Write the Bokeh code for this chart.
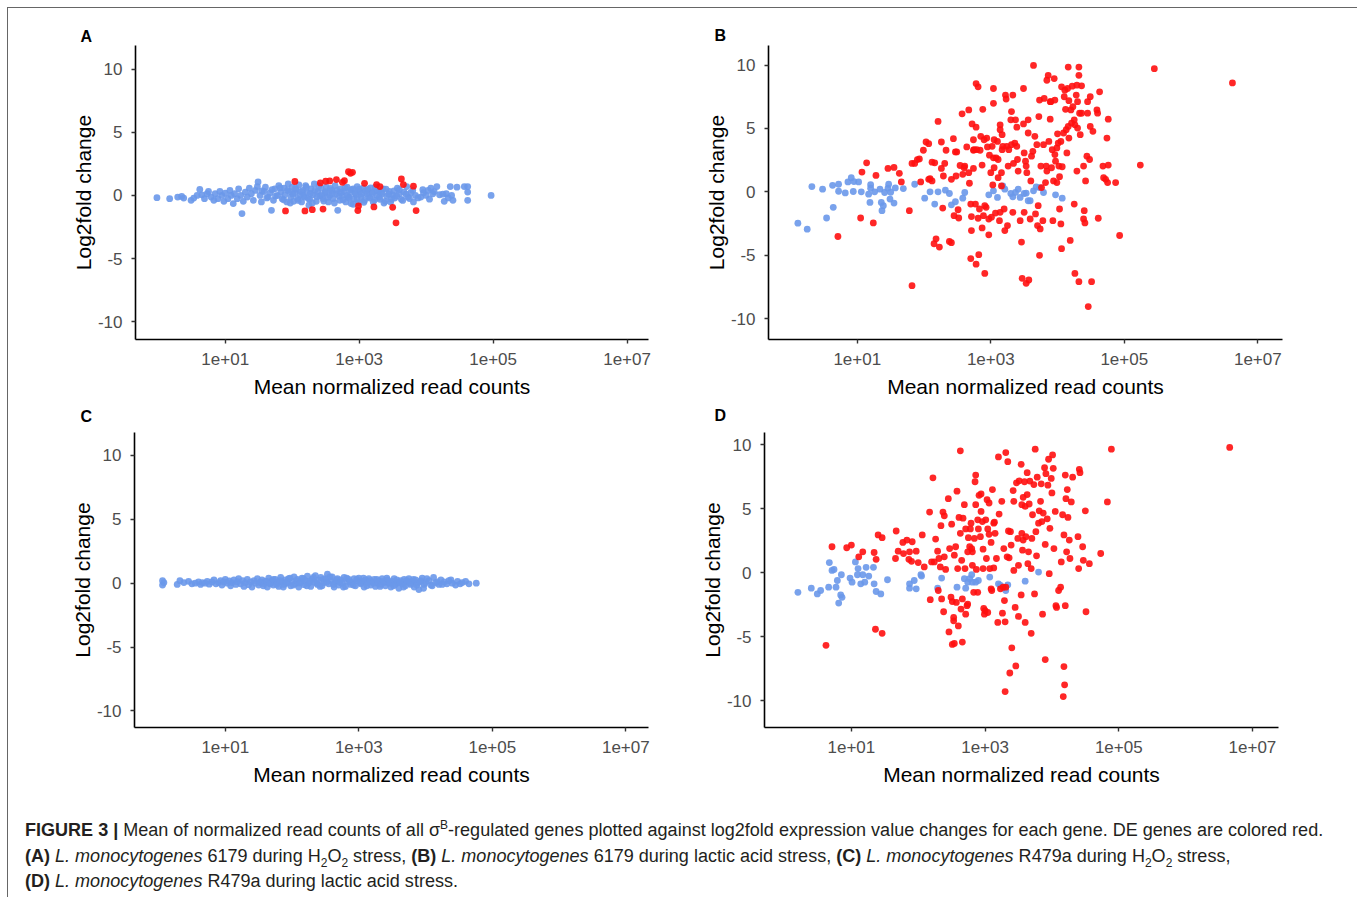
import numpy as np
from bokeh.plotting import figure
from bokeh.models import Range1d, FixedTicker, Div, Title, Spacer
from bokeh.layouts import column, row
from bokeh.embed import file_html
from bokeh.resources import INLINE

# ---------------- data: (log10 mean normalized read count, log2 fold change) ----------------
x_ticks = [10, 1000, 100000, 10000000]
x_tick_labels = ["1e+01", "1e+03", "1e+05", "1e+07"]
y_ticks = [-10, -5, 0, 5, 10]
y_tick_labels = ["-10", "-5", "0", "5", "10"]

# Panel A: 6179, H2O2
a_blue = [(-0.02,-0.18),(0.17,-0.26),(0.29,-0.13),(0.35,-0.08),(0.38,-0.21),(0.49,-0.39),(0.53,-0.21),(0.58,0.0),
          (0.62,0.47),(0.65,0.05),(0.69,-0.26),(0.73,0.13),(0.75,0.31),(0.79,-0.13),(0.83,-0.39),(0.85,0.13),(0.89,-0.26),
          (0.92,0.31),(0.95,0.0),(0.98,-0.47),(1.0,0.18),(1.04,-0.26),(1.07,0.39),(1.09,0.0),(1.12,-0.65),(1.14,0.13),
          (1.18,-0.26),(1.2,0.52),(1.23,0.0),(1.25,-1.44),(1.27,-0.47),(1.3,0.26),(1.33,-0.13),(1.36,0.57),(1.39,0.13),
          (1.42,-0.39),(1.45,0.39),(1.48,0.7),(1.49,1.07),(1.52,0.0),(1.54,-0.52),(1.58,0.31),(1.6,0.65),(1.64,-0.13),
          (1.67,0.21),(1.69,-1.18),(1.72,-0.39),(1.74,0.52),(1.78,0.0),(1.8,0.78),(1.83,0.26),(1.85,-0.26),(1.88,0.57),
          (1.89,0.05),(1.92,-0.52),(1.94,0.91),(1.96,0.31),(1.98,-0.13),(2.0,0.65),(2.02,-0.47),(2.04,0.21),(2.06,0.47),
          (2.08,-0.26),(2.1,0.83),(2.12,0.05),(2.14,-0.52),(2.16,0.39),(2.18,-0.13),(2.2,0.78),(2.22,0.21),(2.25,-0.78),
          (2.26,-0.31),(2.28,0.52),(2.31,0.05),(2.33,0.91),(2.36,-0.47),(2.38,0.31),(2.41,-0.05),(2.43,0.57),(2.46,-0.26),
          (2.49,0.21),(2.51,0.65),(2.54,-0.52),(2.56,0.0),(2.59,0.39),(2.61,-0.26),(2.64,0.78),(2.66,0.13),(2.68,-1.18),
          (2.71,-0.39),(2.72,0.52),(2.75,0.0),(2.77,0.31),(2.8,-0.52),(2.82,0.65),(2.84,-0.13),(2.86,0.21),(2.88,-0.65),
          (2.91,0.52),(2.92,-0.26),(2.95,0.08),(2.97,0.7),(2.99,-0.57),(3.01,0.31),(3.03,-0.13),(3.06,0.57),(3.08,-0.39),
          (3.11,0.13),(3.13,0.47),(3.16,-0.21),(3.19,0.26),(3.21,-0.52),(3.24,0.65),(3.26,0.0),(3.29,0.31),(3.31,-0.31),
          (3.34,0.13),(3.36,0.52),(3.39,-0.47),(3.41,-0.05),(3.45,0.31),(3.47,-0.52),(3.5,0.05),(3.53,-0.21),(3.57,0.57),
          (3.6,0.13),(3.63,-0.31),(3.67,0.26),(3.71,0.7),(3.73,-0.13),(3.77,0.21),(3.81,-0.52),(3.84,0.0),(3.92,-0.13),
          (3.96,0.21),(4.0,0.0),(4.03,0.39),(4.07,0.57),(4.1,0.13),(4.16,0.7),(4.2,0.05),(4.27,-0.47),(4.3,0.13),
          (4.36,0.7),(4.38,0.0),(4.4,-0.39),(4.46,0.65),(4.57,0.7),(4.62,0.7),(4.62,0.26),(4.62,-0.39),(4.97,0.0),
          (1.55,0.35),(1.62,-0.2),(1.7,0.45),(1.75,-0.05),(1.82,0.6),(1.87,-0.35),(1.93,0.4),(1.97,-0.6),(2.01,0.1),
          (2.05,0.55),(2.09,-0.4),(2.13,0.3),(2.17,-0.05),(2.21,0.65),(2.24,-0.25),(2.27,0.15),(2.3,-0.6),(2.34,0.4),
          (2.37,-0.1),(2.4,0.75),(2.44,0.05),(2.47,-0.45),(2.5,0.3),(2.53,-0.15),(2.57,0.55),(2.6,0.15),(2.63,-0.6),
          (2.67,0.4),(2.7,-0.05),(2.73,0.25),(2.76,-0.35),(2.79,0.6),(2.82,0.0),(2.85,-0.2),(2.88,0.45),(2.91,-0.7),
          (2.94,0.2),(2.97,-0.3),(3.0,0.5),(3.04,0.1),(3.07,-0.55),(3.1,0.35),(3.14,-0.1),(3.17,0.6),(3.2,0.15),
          (3.23,-0.35),(3.27,0.4),(3.3,-0.15),(3.33,0.25),(3.37,-0.6),(3.4,0.5),(3.44,0.1),(3.48,-0.3),(3.52,0.35),
          (3.56,-0.05),(3.6,0.45),(3.65,-0.4),(3.7,0.1),(3.75,-0.25),(3.8,0.4),(3.88,-0.2),(3.95,0.45),(4.05,-0.3),
          (4.12,0.3),(4.25,0.1),(4.33,-0.2)]
a_red = [(2.04,1.1),(1.9,-1.23),(2.19,-1.23),(2.3,-1.13),(2.42,0.99),(2.46,-1.08),(2.5,1.12),(2.56,1.15),(2.66,1.25),
         (2.75,1.04),(2.78,1.17),(2.84,1.88),(2.87,1.75),(2.9,1.83),(2.99,-0.84),(2.98,-1.2),(3.08,0.96),(3.22,-0.91),
         (3.26,0.86),(3.31,0.7),(3.5,-0.94),(3.55,-2.17),(3.63,1.3),(3.66,0.86),(3.81,0.73),(3.85,-1.2)]

# Panel B: 6179, lactic acid
b_blue = [(0.11,-2.47),(0.25,-2.94),(0.32,0.42),(0.48,0.21),(0.54,-2.06),(0.63,0.52),(0.64,-1.22),(0.72,0.6),(0.72,0.05),
          (0.82,-0.08),(0.86,0.78),(0.91,1.12),(0.94,0.03),(0.95,0.81),(1.02,0.78),(1.06,0.0),(1.17,-0.18),(1.2,0.57),
          (1.2,0.29),(1.19,-0.83),(1.26,0.0),(1.34,0.21),(1.36,-0.83),(1.37,-1.48),(1.39,-1.09),(1.41,-0.05),(1.46,0.29),
          (1.47,0.6),(1.49,-0.57),(1.5,-0.03),(1.55,-0.88),(1.57,0.31),(1.69,0.26),(1.86,0.6),(2.01,-0.5),(2.09,0.0),
          (2.16,-0.96),(2.21,0.0),(2.32,0.13),(2.38,-0.13),(2.41,-1.02),(2.47,-0.78),(2.58,-0.5),(2.61,-0.05),(2.97,-0.23),
          (3.04,0.08),(3.1,-0.44),(3.18,0.47),(3.21,0.21),(3.3,-0.13),(3.33,-0.39),(3.37,-0.05),(3.41,0.21),(3.44,-0.44),
          (3.5,-0.13),(3.59,-0.7),(3.64,0.08),(3.73,0.34),(3.79,-0.05),(3.97,-0.23),(4.07,-0.5),(3.53,-0.1),(3.56,-0.7),
          (3.68,0.39)]
b_red = [(0.71,-3.52),(1.05,-2.06),(1.07,1.56),(1.14,2.29),(1.24,-2.45),(1.28,1.3),(1.46,1.85),(1.55,1.93),(1.63,1.46),
         (1.66,0.78),(1.78,-1.48),(1.82,2.24),(1.82,-7.4),(1.86,2.24),(1.9,2.55),(1.93,2.6),(1.95,0.78),(1.99,3.28),
         (2.03,3.93),(2.07,3.8),(2.07,0.99),(2.09,1.04),(2.12,2.34),(2.12,0.86),(2.15,-4.09),(2.16,2.29),(2.18,-3.7),
         (2.21,5.55),(2.23,-4.35),(2.26,3.93),(2.26,1.85),(2.28,-1.28),(2.29,1.25),(2.31,2.24),(2.33,3.28),(2.38,-3.91),
         (2.41,-4.01),(2.41,0.99),(2.44,4.19),(2.45,-1.88),(2.47,3.15),(2.48,1.25),(2.49,3.15),(2.51,-1.41),(2.52,-2.06),
         (2.54,2.08),(2.57,6.15),(2.58,1.38),(2.6,1.9),(2.61,2.03),(2.64,3.54),(2.67,6.46),(2.67,1.51),(2.68,0.68),
         (2.7,-5.26),(2.7,-0.96),(2.71,-1.95),(2.71,-3.05),(2.72,5.36),(2.74,4.11),(2.74,3.28),(2.74,1.85),(2.75,3.33),
         (2.77,-0.96),(2.78,-5.7),(2.78,5.1),(2.78,8.54),(2.79,3.33),(2.81,8.28),(2.81,-2.08),(2.82,-4.95),(2.83,-1.35),
         (2.84,3.28),(2.85,4.38),(2.87,-2.84),(2.87,2.11),(2.88,6.51),(2.89,-1.88),(2.9,4.11),(2.91,-6.43),(2.91,-1.09),
         (2.93,-1.22),(2.94,4.24),(2.95,3.54),(2.97,-2.14),(2.97,-3.39),(2.98,2.89),(3.0,1.51),(3.01,-2.0),(3.02,3.59),
         (3.03,0.55),(3.04,8.15),(3.04,6.98),(3.04,2.68),(3.05,4.11),(3.05,1.9),(3.07,-1.67),(3.08,2.68),(3.1,3.98),
         (3.11,2.55),(3.11,1.12),(3.13,-2.27),(3.14,5.29),(3.14,4.9),(3.14,-1.61),(3.16,1.51),(3.16,0.47),(3.17,3.33),
         (3.17,4.51),(3.18,3.59),(3.2,-1.35),(3.21,-3.05),(3.22,7.63),(3.23,7.32),(3.24,3.59),(3.25,-2.66),(3.26,2.03),
         (3.27,3.33),(3.3,5.68),(3.31,3.72),(3.31,6.33),(3.33,-1.61),(3.33,7.63),(3.34,2.24),(3.36,3.85),(3.37,5.68),
         (3.39,3.59),(3.39,5.1),(3.4,2.55),(3.41,1.64),(3.44,-2.27),(3.46,-3.96),(3.47,-6.82),(3.49,8.15),(3.49,5.36),
         (3.5,3.07),(3.5,-1.61),(3.52,2.42),(3.53,2.03),(3.53,-7.21),(3.54,1.51),(3.56,5.68),(3.56,4.64),(3.57,-6.95),
         (3.59,-2.14),(3.6,0.86),(3.61,2.81),(3.63,3.2),(3.64,9.97),(3.66,4.38),(3.67,-1.74),(3.69,3.72),(3.7,-2.66),
         (3.71,-1.09),(3.72,5.94),(3.73,-5.0),(3.73,7.24),(3.74,-2.92),(3.75,2.03),(3.76,0.34),(3.78,-2.27),(3.79,3.72),
         (3.8,7.37),(3.82,0.73),(3.83,2.03),(3.84,8.8),(3.84,1.64),(3.86,9.19),(3.87,3.98),(3.89,5.73),(3.89,7.11),
         (3.9,7.11),(3.91,1.9),(3.92,3.33),(3.93,-2.27),(3.94,0.86),(3.95,8.93),(3.96,2.94),(3.96,7.24),(3.97,2.42),
         (3.99,3.46),(3.99,0.73),(4.0,4.58),(4.01,3.85),(4.02,2.03),(4.03,-1.35),(4.03,1.2),(4.05,-2.53),(4.05,3.98),
         (4.06,-4.48),(4.06,8.28),(4.07,1.98),(4.09,4.64),(4.1,7.5),(4.11,8.02),(4.12,6.51),(4.13,4.9),(4.14,3.07),
         (4.15,8.15),(4.16,9.84),(4.16,5.16),(4.17,7.19),(4.17,4.24),(4.19,-3.83),(4.2,6.46),(4.21,5.42),(4.22,8.33),
         (4.23,6.72),(4.25,-0.96),(4.25,5.68),(4.26,-6.43),(4.26,5.29),(4.28,7.63),(4.29,8.41),(4.29,1.64),(4.3,7.11),
         (4.3,5.03),(4.32,-7.08),(4.32,9.19),(4.32,9.84),(4.33,6.2),(4.34,4.51),(4.36,6.2),(4.36,8.36),(4.39,2.03),
         (4.39,-2.14),(4.4,-1.48),(4.41,-2.45),(4.42,0.86),(4.44,2.81),(4.45,7.11),(4.45,6.2),(4.46,-9.04),(4.48,2.55),
         (4.49,7.5),(4.49,5.16),(4.51,-7.08),(4.53,4.77),(4.59,6.46),(4.6,6.2),(4.61,-2.08),(4.63,7.89),(4.68,2.03),
         (4.69,1.12),(4.72,0.99),(4.74,4.24),(4.75,0.73),(4.76,5.73),(4.76,2.11),(4.87,0.73),(4.93,-3.44),(5.24,2.11),
         (5.45,9.71),(6.62,8.59)]

# Panel C: R479a, H2O2
c_blue = [(0.06,0.2),(0.06,-0.15),(0.08,0.05),(0.28,-0.1),(0.32,0.2),(0.38,0.05),(0.45,0.15),(0.5,-0.05),(0.55,0.0),
          (0.6,0.1),(0.63,-0.1),(0.66,0.05),(0.7,0.0),(0.73,0.15),(0.76,-0.08),(0.8,0.1),(0.83,0.25),(0.86,-0.05),
          (0.9,0.05),(0.93,0.2),(0.95,-0.15),(0.98,0.1),(1.0,0.3),(1.03,0.0),(1.06,0.18),(1.08,-0.2),(1.1,0.05),
          (1.13,0.25),(1.16,-0.1),(1.18,0.12),(1.2,0.35),(1.23,-0.05),(1.26,0.2),(1.28,-0.25),(1.3,0.05),(1.33,0.3),
          (1.35,-0.12),(1.38,0.1),(1.4,-0.3),(1.43,0.2),(1.45,0.0),(1.48,0.35),(1.5,-0.15),(1.53,0.1),(1.55,0.25),
          (1.58,-0.05),(1.6,0.15),(1.63,-0.3),(1.65,0.4),(1.68,0.0),(1.7,0.2),(1.72,-0.15),(1.75,0.3),(1.78,0.05),
          (1.8,-0.25),(1.83,0.45),(1.85,0.1),(1.88,-0.1),(1.9,0.25),(1.93,0.0),(1.95,0.35),(1.98,-0.2),(2.0,0.15),
          (2.03,0.5),(2.05,-0.05),(2.08,0.3),(2.1,-0.3),(2.13,0.1),(2.15,0.4),(2.18,-0.12),(2.2,0.2),(2.23,0.55),
          (2.25,0.0),(2.28,-0.25),(2.3,0.3),(2.33,0.1),(2.35,0.6),(2.38,-0.1),(2.4,0.25),(2.43,0.45),(2.45,-0.2),
          (2.48,0.05),(2.5,0.35),(2.53,0.7),(2.55,-0.05),(2.58,0.2),(2.6,0.5),(2.63,-0.3),(2.65,0.1),(2.68,0.35),
          (2.7,-0.15),(2.73,0.25),(2.75,0.0),(2.78,0.45),(2.8,-0.25),(2.83,0.15),(2.85,0.3),(2.88,-0.1),(2.9,0.05),
          (2.93,0.35),(2.95,-0.2),(2.98,0.2),(3.0,0.4),(3.03,-0.05),(3.05,0.15),(3.08,-0.3),(3.1,0.25),(3.13,0.05),
          (3.15,0.35),(3.18,-0.15),(3.2,0.1),(3.23,0.3),(3.25,-0.25),(3.28,0.0),(3.3,0.2),(3.33,-0.1),(3.35,0.35),
          (3.38,0.05),(3.4,-0.2),(3.43,0.25),(3.45,0.0),(3.48,-0.3),(3.5,0.15),(3.53,0.35),(3.55,-0.1),(3.58,0.05),
          (3.6,-0.4),(3.63,0.2),(3.65,-0.05),(3.68,0.3),(3.7,-0.2),(3.73,0.1),(3.75,0.35),(3.78,-0.1),(3.8,0.15),
          (3.83,-0.3),(3.85,0.25),(3.88,0.0),(3.9,-0.5),(3.93,0.2),(3.95,0.4),(3.98,-0.1),(4.0,0.05),(4.05,0.2),
          (4.08,-0.15),(4.12,0.45),(4.15,0.05),(4.2,-0.1),(4.23,0.25),(4.28,0.1),(4.32,-0.05),(4.35,0.2),(4.4,0.0),
          (4.45,-0.15),(4.48,0.15),(4.52,-0.05),(4.55,0.05),(4.76,0.0),
          (1.52,0.05),(1.57,-0.2),(1.62,0.15),(1.67,-0.05),(1.72,0.3),(1.77,-0.1),(1.82,0.2),(1.87,-0.3),(1.92,0.1),
          (1.97,0.4),(2.02,-0.15),(2.07,0.2),(2.12,0.0),(2.17,0.35),(2.22,-0.2),(2.27,0.15),(2.32,0.45),(2.37,0.0),
          (2.42,-0.25),(2.47,0.3),(2.52,0.1),(2.57,0.5),(2.62,-0.1),(2.67,0.25),(2.72,0.05),(2.77,-0.3),(2.82,0.4),
          (2.87,0.1),(2.92,-0.15),(2.97,0.3),(3.02,0.05),(3.07,0.4),(3.12,-0.2),(3.17,0.2),(3.22,0.0),(3.27,0.3),
          (3.32,-0.25),(3.37,0.15),(3.42,0.4),(3.47,0.0),(3.52,-0.2),(3.57,0.25),(3.62,0.05),(3.67,-0.3),(3.72,0.2),
          (3.77,0.0),(3.82,0.3),(3.87,-0.15),(3.92,0.1),(3.97,-0.4),(4.02,0.35),(4.1,-0.2),(4.18,0.1),(4.25,-0.1),
          (4.38,0.25),(4.6,0.15),(4.65,-0.05)]
c_red = []

# Panel D: R479a, lactic acid
d_blue = [(0.2,-1.53),(0.4,-1.21),(0.49,-1.66),(0.54,-1.39),(0.66,-1.13),(0.67,0.79),(0.71,0.18),(0.74,0.26),
          (0.77,-1.13),(0.79,-0.61),(0.81,-2.37),(0.84,-1.74),(0.86,-1.92),(0.85,-0.16),(0.98,-0.42),(1.01,-0.74),
          (1.06,0.84),(1.09,-0.16),(1.1,0.32),(1.14,-0.87),(1.17,-0.16),(1.2,-0.74),(1.22,0.42),(1.26,-0.26),
          (1.33,0.42),(1.34,-0.87),(1.37,-1.47),(1.44,-1.66),(1.54,-0.55),(1.87,-0.87),(1.87,-1.21),(1.94,-0.61),
          (1.97,-1.26),(2.04,-0.16),(2.05,-0.26),(2.29,-1.21),(2.35,-0.42),(2.58,-1.13),(2.69,-0.47),(2.71,-1.21),
          (2.74,-0.74),(2.77,-0.47),(2.8,-0.16),(2.81,-0.74),(2.86,-0.74),(2.9,-0.61),(3.07,-0.34),(3.2,-0.87),
          (3.23,-1.0),(3.31,-1.39),(3.34,-0.95),(3.6,-0.66),(3.8,0.05)]
d_red = [(0.62,-5.68),(0.71,2.03),(0.93,1.95),(1.0,2.16),(1.11,1.24),(1.17,1.63),(1.34,1.58),(1.36,-4.42),(1.37,1.05),
         (1.4,2.95),(1.46,2.74),(1.46,-4.74),(1.66,1.11),(1.67,3.26),(1.7,1.68),(1.77,2.37),(1.78,1.5),(1.83,2.55),
         (1.86,1.05),(1.87,1.63),(1.9,0.89),(1.91,2.42),(1.97,1.68),(2.0,0.79),(2.06,2.95),(2.09,0.45),(2.17,4.74),
         (2.18,-2.11),(2.2,0.84),(2.22,7.42),(2.24,0.84),(2.26,2.63),(2.29,1.68),(2.3,-1.39),(2.31,1.11),(2.33,0.45),
         (2.34,3.68),(2.35,-2.05),(2.37,4.74),(2.38,-3.05),(2.39,4.45),(2.39,1.24),(2.41,0.26),(2.45,5.79),(2.46,-4.63),
         (2.47,1.89),(2.49,-1.92),(2.5,3.79),(2.51,-5.61),(2.51,-2.26),(2.53,-3.5),(2.53,-3.76),(2.54,1.37),(2.54,-5.53),
         (2.56,2.03),(2.57,-2.32),(2.58,6.37),(2.59,0.32),(2.6,-4.16),(2.61,4.32),(2.63,9.53),(2.63,3.08),(2.64,-2.84),
         (2.65,0.97),(2.66,-2.05),(2.66,-5.42),(2.67,4.26),(2.69,5.32),(2.7,0.32),(2.71,3.42),(2.71,-3.24),(2.73,-2.58),
         (2.74,1.63),(2.74,-2.45),(2.75,2.74),(2.77,2.03),(2.78,3.42),(2.79,3.87),(2.8,1.89),(2.81,0.58),(2.81,1.63),
         (2.83,-1.53),(2.84,2.68),(2.85,7.11),(2.86,7.63),(2.86,5.32),(2.87,0.26),(2.89,-1.53),(2.89,4.13),(2.9,3.42),
         (2.91,6.05),(2.93,2.82),(2.94,6.16),(2.94,4.79),(2.96,4.0),(2.97,0.32),(2.97,1.84),(2.98,-2.79),(2.99,-3.24),
         (3.0,-2.97),(3.01,4.13),(3.02,1.11),(3.03,5.71),(3.04,3.42),(3.04,-3.11),(3.06,5.45),(3.06,3.0),(3.07,0.32),
         (3.09,2.37),(3.09,-1.26),(3.1,-1.39),(3.11,6.5),(3.13,0.37),(3.13,3.87),(3.14,3.95),(3.15,3.08),(3.17,1.11),
         (3.19,-3.89),(3.2,9.05),(3.21,4.58),(3.23,-1.26),(3.25,5.58),(3.26,-3.16),(3.27,-1.13),(3.28,1.89),(3.29,-2.18),
         (3.3,-9.29),(3.3,-3.84),(3.31,9.39),(3.31,-1.13),(3.33,1.24),(3.34,8.68),(3.35,3.26),(3.36,1.16),(3.37,-7.84),
         (3.38,3.21),(3.39,2.16),(3.4,-5.87),(3.42,6.42),(3.43,5.58),(3.43,0.18),(3.45,-2.71),(3.46,-7.29),(3.47,7.03),
         (3.49,2.68),(3.5,0.58),(3.5,-3.42),(3.51,7.18),(3.54,8.47),(3.54,-1.74),(3.55,5.32),(3.55,3.08),(3.56,1.76),
         (3.57,5.89),(3.57,2.55),(3.59,7.11),(3.6,-3.89),(3.6,5.18),(3.61,2.82),(3.63,7.82),(3.63,6.11),(3.64,0.71),
         (3.65,1.63),(3.66,5.37),(3.67,7.16),(3.69,0.32),(3.69,-4.74),(3.7,2.68),(3.71,4.53),(3.73,6.89),(3.74,-1.66),
         (3.75,9.66),(3.76,3.21),(3.77,1.32),(3.78,7.47),(3.8,3.87),(3.81,4.84),(3.83,5.58),(3.84,6.95),(3.85,4.0),
         (3.86,-3.24),(3.87,4.66),(3.89,8.21),(3.9,2.21),(3.9,-6.79),(3.91,7.74),(3.93,4.21),(3.94,6.84),(3.95,8.87),
         (3.96,-0.08),(3.97,3.47),(3.99,7.37),(4.0,6.24),(4.01,9.21),(4.02,8.16),(4.03,1.89),(4.05,4.79),(4.06,-2.58),
         (4.07,-2.71),(4.1,-1.39),(4.13,-1.13),(4.14,0.84),(4.16,4.53),(4.17,-9.68),(4.18,-7.34),(4.18,2.95),(4.19,-8.76),
         (4.2,7.63),(4.2,-2.58),(4.21,5.79),(4.22,1.63),(4.23,6.5),(4.24,4.32),(4.26,2.55),(4.27,1.11),(4.29,5.53),
         (4.31,7.47),(4.39,2.82),(4.4,0.32),(4.41,8.08),(4.42,7.82),(4.46,2.03),(4.47,0.97),(4.5,4.84),(4.51,-3.05),
         (4.56,0.71),(4.73,1.5),(4.83,5.53),(4.89,9.66),(6.66,9.79)]

RED = "#ff1010"
BLUE = "#6a98ea"
FONT = "Liberation Sans"


def letter_title(text, offset, standoff):
    return Title(text=text, align="left", offset=offset, standoff=standoff, text_font=FONT,
                 text_font_size="16px", text_font_style="bold", text_color="black")


def panel(letter, blue, red, xlog, yr, width, height, bl, br, bt, bb, t_off, t_stand):
    p = figure(width=width, height=height, x_axis_type="log",
               x_range=Range1d(10 ** xlog[0], 10 ** xlog[1]), y_range=Range1d(yr[0], yr[1]),
               output_backend="svg", toolbar_location=None, title=None,
               min_border_left=bl, min_border_right=br, min_border_top=bt, min_border_bottom=bb)
    p.outline_line_color = None
    p.xgrid.visible = False
    p.ygrid.visible = False
    p.background_fill_color = "white"
    p.border_fill_color = "white"
    if letter:
        p.add_layout(letter_title(letter, t_off, t_stand), "above")

    p.xaxis.ticker = FixedTicker(ticks=x_ticks)
    p.xaxis.major_label_overrides = {t: l for t, l in zip(x_ticks, x_tick_labels)}
    p.yaxis.ticker = FixedTicker(ticks=y_ticks)
    p.yaxis.major_label_overrides = {t: l for t, l in zip(y_ticks, y_tick_labels)}
    for ax in (p.xaxis, p.yaxis):
        ax.axis_line_color = "black"
        ax.axis_line_width = 1.6
        ax.major_tick_line_color = "#333333"
        ax.major_tick_line_width = 1.4
        ax.major_tick_in = 0
        ax.major_tick_out = 4
        ax.minor_tick_line_color = None
        ax.major_label_text_font = FONT
        ax.major_label_text_font_size = "17px"
        ax.major_label_text_color = "#4d4d4d"
        ax.axis_label_text_font = FONT
        ax.axis_label_text_font_size = "21px"
        ax.axis_label_text_font_style = "normal"
        ax.axis_label_text_color = "black"
    p.xaxis.axis_label = "Mean normalized read counts"
    p.xaxis.major_label_standoff = 9
    p.xaxis.axis_label_standoff = 7
    p.yaxis.axis_label = "Log2fold change"
    p.yaxis.major_label_standoff = 9
    p.yaxis.axis_label_standoff = 0

    if blue:
        bx = [10 ** v[0] for v in blue]
        by = [v[1] for v in blue]
        p.scatter(bx, by, size=6.8, fill_color=BLUE, fill_alpha=0.9, line_color=None)
    if red:
        rx = [10 ** v[0] for v in red]
        ry = [v[1] for v in red]
        p.scatter(rx, ry, size=6.8, fill_color=RED, fill_alpha=0.9, line_color=None)
    return p


# top row spans page y 8..431, bottom row 431..800 (letters C and D live under the top panels)
pA = panel("A", a_blue, a_red, (-0.34, 7.32), (-11.41, 11.87), 680, 423, 127, 40, 34, 92, -55, 2)
pB = panel("B", b_blue, b_red, (-0.33, 7.37), (-11.64, 11.54), 661, 423, 80, 67, 37, 89, -54, 4)
pA.add_layout(letter_title("C", -55, 10), "below")
pB.add_layout(letter_title("D", -54, 9), "below")
pC = panel(None, c_blue, c_red, (-0.36, 7.34), (-11.3, 11.8), 680, 369, 126, 40, 0, 73, 0, 0)
pD = panel(None, d_blue, d_red, (-0.30, 7.39), (-12.1, 10.96), 661, 369, 76, 71, 1, 73, 0, 0)

SUB = 'style="font-size:12px;line-height:0"'
caption_html = (
    '<div style="font-family:\'Liberation Sans\',Arial,sans-serif;font-size:18.05px;line-height:25.5px;'
    'color:#231f20;white-space:nowrap;padding:13px 0 0 12px;">'
    '<b>FIGURE 3 |</b> Mean of normalized read counts of all &sigma;<sup ' + SUB + '>B</sup>-regulated genes '
    'plotted against log2fold expression value changes for each gene. DE genes are colored red.<br>'
    '<b>(A)</b> <i>L. monocytogenes</i> 6179 during H<sub ' + SUB + '>2</sub>O<sub ' + SUB + '>2</sub> stress, '
    '<b>(B)</b> <i>L. monocytogenes</i> 6179 during lactic acid stress, '
    '<b>(C)</b> <i>L. monocytogenes</i> R479a during H<sub ' + SUB + '>2</sub>O<sub ' + SUB + '>2</sub> stress,<br>'
    '<b>(D)</b> <i>L. monocytogenes</i> R479a during lactic acid stress.'
    '</div>'
)
caption = Div(text=caption_html, width=1341, height=96)

content = column(row(pA, pB), row(pC, pD), caption, styles={"outline": "1px solid #666666"})
root = column(Spacer(height=8), row(Spacer(width=8), content))

open("out.html", "w").write(file_html(root, INLINE))
